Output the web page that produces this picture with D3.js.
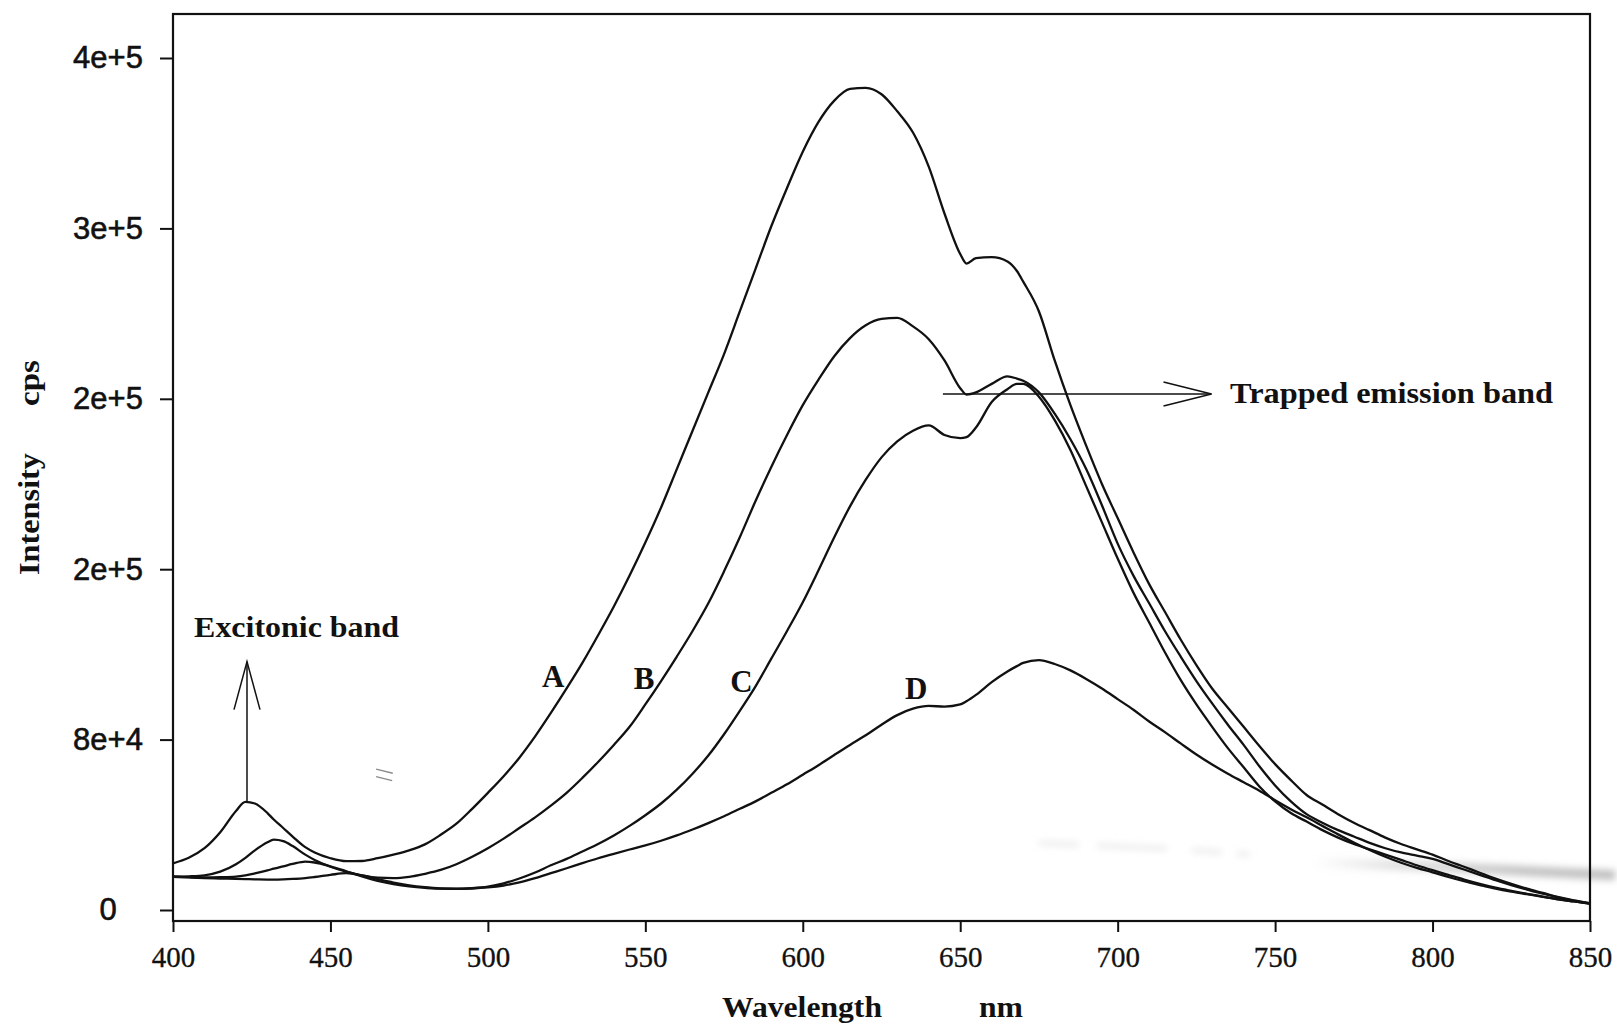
<!DOCTYPE html>
<html>
<head>
<meta charset="utf-8">
<script src="https://cdn.jsdelivr.net/npm/d3@7"></script>
<style>
  html, body { margin: 0; padding: 0; background: #fff; }
  svg { display: block; }
</style>
</head>
<body>
<svg id="chart" width="1617" height="1025"></svg>
<script>
// Emission spectra of samples A–D (wavelength in nm, intensity in cps)
const wavelengths = [
  400,405,410,415,420,423,426,430,432,435,
  438,442,445,450,455,460,465,470,475,480,
  485,490,495,500,505,510,515,520,525,530,
  535,540,545,550,555,560,565,570,575,580,
  585,590,595,600,605,610,615,620,625,630,
  635,640,645,650,652,655,660,665,668,670,
  675,680,685,690,695,700,705,710,715,720,
  725,730,735,740,745,750,755,760,765,770,
  775,780,785,790,795,800,805,810,815,820,
  825,830,835,840,845,850
];

const seriesA = [
  21900,24500,29000,36500,46500,50800,50000,45500,42500,38500,
  34500,29500,27000,24300,22900,23000,24300,26000,28000,30800,
  35300,40500,47500,55000,62800,71500,81500,92500,104000,116000,
  129000,142500,157000,172500,189000,207000,225000,243000,261000,281000,
  301000,321000,339000,356000,370000,380000,385500,386000,383000,375000,
  365000,349000,327000,308000,303500,306000,306500,304500,300000,295000,
  281000,258000,237000,218000,200000,184000,168000,153000,140000,127000,
  115000,104000,95000,86000,77000,68500,61000,54000,49500,45000,
  41000,37500,34000,31000,28500,26000,23000,20300,17500,14800,
  12300,10000,8000,6000,4500,3200
];

const seriesB = [
  15600,15800,16300,18000,21500,24500,28000,31800,33000,32300,
  30000,26000,23500,20300,18000,16300,15200,15000,15600,17000,
  18800,21500,25000,29000,33500,38500,43500,49000,55000,62000,
  69500,77500,86000,96500,107500,119000,131000,144000,159000,175000,
  192000,208000,223000,237000,249000,260000,268500,274500,277500,278000,
  274000,268000,258000,245000,242000,243000,247000,250500,249500,248500,
  243000,233000,221000,207000,190000,172000,157000,144000,131000,119000,
  107500,97000,87000,77500,67500,58500,51000,45000,41000,37500,
  34500,31500,29000,27000,25500,24000,21500,19000,16500,14000,
  11700,9600,7700,5800,4300,3100
];

const seriesC = [
  15600,15400,15300,15400,15700,16300,17200,18600,19400,20500,
  21600,22700,22300,20500,18200,15800,13700,12200,11100,10400,
  10000,10000,10300,11000,12500,14800,17600,21000,24000,27500,
  31000,35000,39500,44500,50000,56500,64000,72500,82500,93500,
  105000,118000,131000,144500,159500,175000,189500,202000,212500,220000,
  225000,227500,223000,221500,222000,226500,238500,244500,247000,247000,
  241000,230000,216000,199000,182000,165000,149000,135000,121000,108000,
  96500,86000,76000,67000,58000,51000,45500,41500,37500,34000,
  31000,28500,26000,23500,21000,18700,16500,14300,12300,10500,
  9000,7600,6300,5000,4000,3000
];

const seriesD = [
  15600,15300,15000,14800,14600,14500,14400,14300,14300,14400,
  14600,15000,15500,16500,17300,16200,14500,12900,11600,10700,
  10100,9900,10100,10600,11500,13000,15000,17300,19600,22000,
  24300,26400,28400,30300,32500,35000,37800,40800,44000,47500,
  51000,55000,59000,63500,68000,72800,77500,82000,87000,91500,
  94500,95800,95500,96500,98000,101000,107000,112000,114500,116000,
  117300,115500,112500,108500,104000,99000,94000,88500,83500,78200,
  73000,68300,64000,60000,56000,51500,47300,43500,39500,35500,
  31700,28200,25000,22200,19800,17700,15500,13500,11700,10000,
  8600,7400,6200,5000,4000,3000
];

const seriesList = [seriesA, seriesB, seriesC, seriesD];

// Axis ticks
const xTickValues = [400, 450, 500, 550, 600, 650, 700, 750, 800, 850];
const yTickValues = [0, 80000, 160000, 240000, 320000, 400000];
const yTickLabels = ["0", "8e+4", "2e+5", "2e+5", "3e+5", "4e+5"];

// Curve letters, placed in data coordinates (nm, cps)
const curveLetters = ["A", "B", "C", "D"];
const letterNm = [520.7, 549.6, 580.5, 636.0];
const letterCps = [104700, 103800, 102400, 99100];

// Band annotations
const excitonArrow = { nm: 423.5, from: 50800, to: 116600 };
const trappedArrow = { cps: 242300, from: 644.5, to: 729.8 };
const excitonText = { text: "Excitonic band", nm: 406.7, cps: 128200 };
const trappedText = { text: "Trapped emission band", nm: 735.7, cps: 238200 };

// ---- layout ----
const plot = { left: 173, right: 1590, top: 14, bottom: 921 };
const serif = "'Liberation Serif', 'Times New Roman', serif";
const sans = "'Liberation Sans', Arial, sans-serif";
const ink = "#111";

const svg = d3.select("#chart");

const x = d3.scaleLinear().domain([400, 850]).range([plot.left, plot.right]);
const y = d3.scaleLinear().domain([0, 400000]).range([910, 58]);

const defs = svg.append("defs");
defs.append("filter").attr("id", "soft").attr("x", "-10%").attr("y", "-300%")
  .attr("width", "120%").attr("height", "700%")
  .append("feGaussianBlur").attr("stdDeviation", 3.5);
defs.append("clipPath").attr("id", "plotClip").append("rect")
  .attr("x", plot.left).attr("y", plot.top)
  .attr("width", plot.right - plot.left).attr("height", plot.bottom - plot.top);

// Soft scanner streaks in the lower right
const streak = [[762, 22300], [800, 20400], [858, 16300]];
const grad = defs.append("linearGradient").attr("id", "streakFade")
  .attr("gradientUnits", "userSpaceOnUse")
  .attr("x1", x(streak[0][0])).attr("x2", x(streak[2][0]))
  .attr("y1", 0).attr("y2", 0);
grad.append("stop").attr("offset", 0).attr("stop-color", "#b8b8b8").attr("stop-opacity", 0);
grad.append("stop").attr("offset", 0.3).attr("stop-color", "#b8b8b8").attr("stop-opacity", 0.45);
grad.append("stop").attr("offset", 0.7).attr("stop-color", "#b0b0b0").attr("stop-opacity", 0.75);
grad.append("stop").attr("offset", 1).attr("stop-color", "#b0b0b0").attr("stop-opacity", 0.8);

svg.append("path")
  .attr("d", d3.line().x(d => x(d[0])).y(d => y(d[1]))(streak))
  .attr("fill", "none").attr("stroke", "url(#streakFade)").attr("stroke-width", 10)
  .attr("filter", "url(#soft)");

const smudge = [[675, 31500], [720, 28500], [742, 26000]];
svg.append("path")
  .attr("d", d3.line().x(d => x(d[0])).y(d => y(d[1]))(smudge))
  .attr("fill", "none").attr("stroke", "#dcdcdc").attr("stroke-width", 5)
  .attr("stroke-dasharray", "40 18 70 25 30 15")
  .attr("stroke-opacity", 0.55).attr("filter", "url(#soft)");

// small pen marks near the baseline
const marks = [
  [[464.5, 66100], [469.8, 64200]],
  [[464.5, 62600], [469.6, 60700]]
];
marks.forEach(m => {
  svg.append("line")
    .attr("x1", x(m[0][0])).attr("y1", y(m[0][1]))
    .attr("x2", x(m[1][0])).attr("y2", y(m[1][1]))
    .attr("stroke", "#8a8a8a").attr("stroke-width", 1.3);
});

// Frame
svg.append("rect")
  .attr("x", plot.left).attr("y", plot.top)
  .attr("width", plot.right - plot.left).attr("height", plot.bottom - plot.top)
  .attr("fill", "none").attr("stroke", ink).attr("stroke-width", 2.2);

// Y axis
const yAxis = svg.append("g")
  .attr("transform", `translate(${plot.left},0)`)
  .call(d3.axisLeft(y).tickValues(yTickValues)
    .tickFormat((d, i) => yTickLabels[i]).tickSize(13).tickPadding(16));
yAxis.select(".domain").remove();
yAxis.selectAll(".tick line").attr("stroke", ink).attr("stroke-width", 2);
yAxis.selectAll(".tick text")
  .attr("x", -65).attr("text-anchor", "middle")
  .attr("font-family", sans).attr("font-size", 31).attr("fill", ink)
  .attr("stroke", ink).attr("stroke-width", 0.6);

// X axis
const xAxis = svg.append("g")
  .attr("transform", `translate(0,${plot.bottom})`)
  .call(d3.axisBottom(x).tickValues(xTickValues)
    .tickFormat(d3.format("d")).tickSize(11).tickPadding(14));
xAxis.select(".domain").remove();
xAxis.selectAll(".tick line").attr("stroke", ink).attr("stroke-width", 2);
xAxis.selectAll(".tick text")
  .attr("font-family", serif).attr("font-size", 29).attr("fill", ink)
  .attr("stroke", ink).attr("stroke-width", 0.3);

// Axis titles
svg.append("text").text("Wavelength")
  .attr("x", 722).attr("y", 1017)
  .attr("textLength", 160).attr("lengthAdjust", "spacingAndGlyphs")
  .attr("font-family", serif).attr("font-weight", "bold").attr("font-size", 29).attr("fill", ink);
svg.append("text").text("nm")
  .attr("x", 979).attr("y", 1017)
  .attr("textLength", 44).attr("lengthAdjust", "spacingAndGlyphs")
  .attr("font-family", serif).attr("font-weight", "bold").attr("font-size", 29).attr("fill", ink);
svg.append("text").text("Intensity")
  .attr("transform", "translate(39,514) rotate(-90)")
  .attr("text-anchor", "middle")
  .attr("textLength", 122).attr("lengthAdjust", "spacingAndGlyphs")
  .attr("font-family", serif).attr("font-weight", "bold").attr("font-size", 29).attr("fill", ink);
svg.append("text").text("cps")
  .attr("transform", "translate(39,383) rotate(-90)")
  .attr("text-anchor", "middle")
  .attr("textLength", 46).attr("lengthAdjust", "spacingAndGlyphs")
  .attr("font-family", serif).attr("font-weight", "bold").attr("font-size", 29).attr("fill", ink);

// Spectra
const line = d3.line()
  .x((d, i) => x(wavelengths[i]))
  .y(d => y(d))
  .curve(d3.curveMonotoneX);

svg.append("g").attr("clip-path", "url(#plotClip)")
  .selectAll("path.spectrum")
  .data(seriesList)
  .join("path")
  .attr("class", "spectrum")
  .attr("d", line)
  .attr("fill", "none")
  .attr("stroke", ink)
  .attr("stroke-width", 2.3)
  .attr("stroke-linejoin", "round");

// Curve letters
svg.selectAll("text.letter")
  .data(curveLetters)
  .join("text")
  .attr("class", "letter")
  .attr("x", (d, i) => x(letterNm[i]))
  .attr("y", (d, i) => y(letterCps[i]))
  .attr("text-anchor", "middle")
  .attr("font-family", serif).attr("font-weight", "bold").attr("font-size", 31)
  .attr("fill", ink)
  .text(d => d);

// Arrow helper: open V head
function arrowHead(tx, ty, dx, dy, len, half) {
  const px = -dy, py = dx;
  const bx = tx - dx * len, by = ty - dy * len;
  return `M${bx + px * half},${by + py * half}L${tx},${ty}L${bx - px * half},${by - py * half}`;
}

// Excitonic band arrow (vertical)
const ex = x(excitonArrow.nm);
svg.append("line")
  .attr("x1", ex).attr("y1", y(excitonArrow.from))
  .attr("x2", ex).attr("y2", y(excitonArrow.to))
  .attr("stroke", ink).attr("stroke-width", 1.5);
svg.append("path")
  .attr("d", arrowHead(ex, y(excitonArrow.to), 0, -1, 48, 13))
  .attr("fill", "none").attr("stroke", ink).attr("stroke-width", 1.5);

// Trapped emission band arrow (horizontal)
const ty = y(trappedArrow.cps);
svg.append("line")
  .attr("x1", x(trappedArrow.from)).attr("y1", ty)
  .attr("x2", x(trappedArrow.to)).attr("y2", ty)
  .attr("stroke", ink).attr("stroke-width", 1.5);
svg.append("path")
  .attr("d", arrowHead(x(trappedArrow.to), ty, 1, 0, 48, 12))
  .attr("fill", "none").attr("stroke", ink).attr("stroke-width", 1.5);

// Annotation texts
svg.append("text").text(excitonText.text)
  .attr("x", x(excitonText.nm)).attr("y", y(excitonText.cps))
  .attr("textLength", 205).attr("lengthAdjust", "spacingAndGlyphs")
  .attr("font-family", serif).attr("font-weight", "bold").attr("font-size", 30).attr("fill", ink);
svg.append("text").text(trappedText.text)
  .attr("x", x(trappedText.nm)).attr("y", y(trappedText.cps))
  .attr("textLength", 323).attr("lengthAdjust", "spacingAndGlyphs")
  .attr("font-family", serif).attr("font-weight", "bold").attr("font-size", 30).attr("fill", ink);
</script>
</body>
</html>
